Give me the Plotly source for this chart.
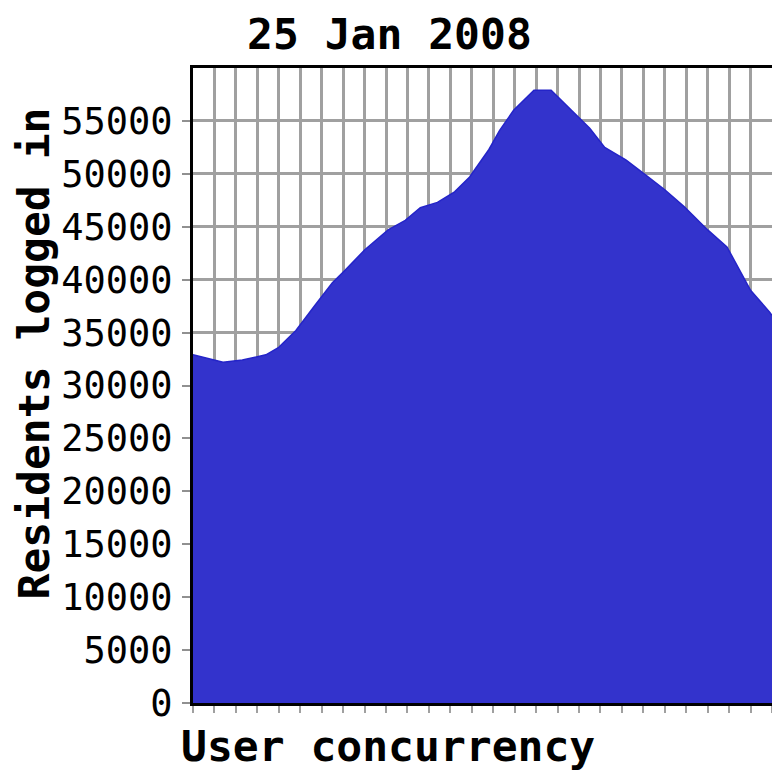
# libraries
import plotly.graph_objects as go

# Data (x in grid units, 27 divisions across the day)
hours = [0, 1.4, 2.3, 3.4, 4.0, 4.8, 5.7, 6.5, 7.1, 8.0, 9.1, 9.9, 10.6, 11.4,
         12.2, 12.9, 13.8, 14.3, 14.95, 15.9, 16.7, 17.4, 18.5, 19.2, 20.2,
         21.1, 22.0, 22.9, 24.0, 24.9, 25.4, 26.0, 26.9, 27.0]
residents = [32900, 32200, 32400, 32900, 33600, 35200, 37600, 39700, 40900,
             42800, 44700, 45600, 46800, 47300, 48300, 49700, 52300, 54100,
             56000, 57900, 57900, 56500, 54300, 52500, 51300, 49900, 48500,
             46900, 44700, 43100, 41200, 39000, 36900, 36600]

y_ticks = [0, 5000, 10000, 15000, 20000, 25000, 30000, 35000, 40000, 45000,
           50000, 55000]

title_text = "25 Jan 2008"
x_title = "User concurrency"
y_title = "Residents logged in"

mono = "DejaVu Sans Mono"

fig = go.Figure(
    go.Scatter(
        x=hours,
        y=residents,
        mode="lines",
        fill="tozeroy",
        fillcolor="#3333cc",
        line=dict(color="#2424c8", width=1.5),
        hoverinfo="skip",
    )
)

# no fixed width/height: the figure fills the window (page has 8px body margin)
fig.update_layout(
    margin=dict(l=185, r=0, t=60, b=69, autoexpand=False),
    paper_bgcolor="white",
    plot_bgcolor="white",
    showlegend=False,
    font=dict(family=mono, color="black"),
)

fig.update_xaxes(
    range=[0, 27],
    dtick=1,
    showticklabels=False,
    showgrid=True,
    gridcolor="#a0a0a0",
    gridwidth=3,
    ticks="outside",
    ticklen=7,
    tickwidth=2,
    tickcolor="#a0a0a0",
    showline=True,
    linecolor="black",
    linewidth=3,
    mirror=True,
    zeroline=False,
)

fig.update_yaxes(
    range=[0, 60000],
    tickvals=y_ticks,
    ticktext=[str(v) for v in y_ticks],
    tickfont=dict(family=mono, size=37, color="black"),
    ticklabelstandoff=2,
    showgrid=True,
    gridcolor="#a0a0a0",
    gridwidth=3,
    ticks="outside",
    ticklen=8,
    tickwidth=1.5,
    tickcolor="#909090",
    showline=True,
    linecolor="black",
    linewidth=3,
    mirror=True,
    zeroline=False,
)

# titles placed as annotations so they sit where the original has them
fig.add_annotation(
    text="<b>" + title_text + "</b>", xref="paper", yref="paper",
    x=0.340, y=1.053, showarrow=False, font=dict(family=mono, size=43),
    xanchor="center", yanchor="middle",
)
fig.add_annotation(
    text="<b>" + x_title + "</b>", xref="paper", yref="paper",
    x=0.337, y=-0.068, showarrow=False, font=dict(family=mono, size=43),
    xanchor="center", yanchor="middle",
)
fig.add_annotation(
    text="<b>" + y_title + "</b>", xref="paper", yref="paper",
    x=-0.274, y=0.551, showarrow=False, textangle=-90,
    font=dict(family=mono, size=43), xanchor="center", yanchor="middle",
)

fig.write_html("out.html")
